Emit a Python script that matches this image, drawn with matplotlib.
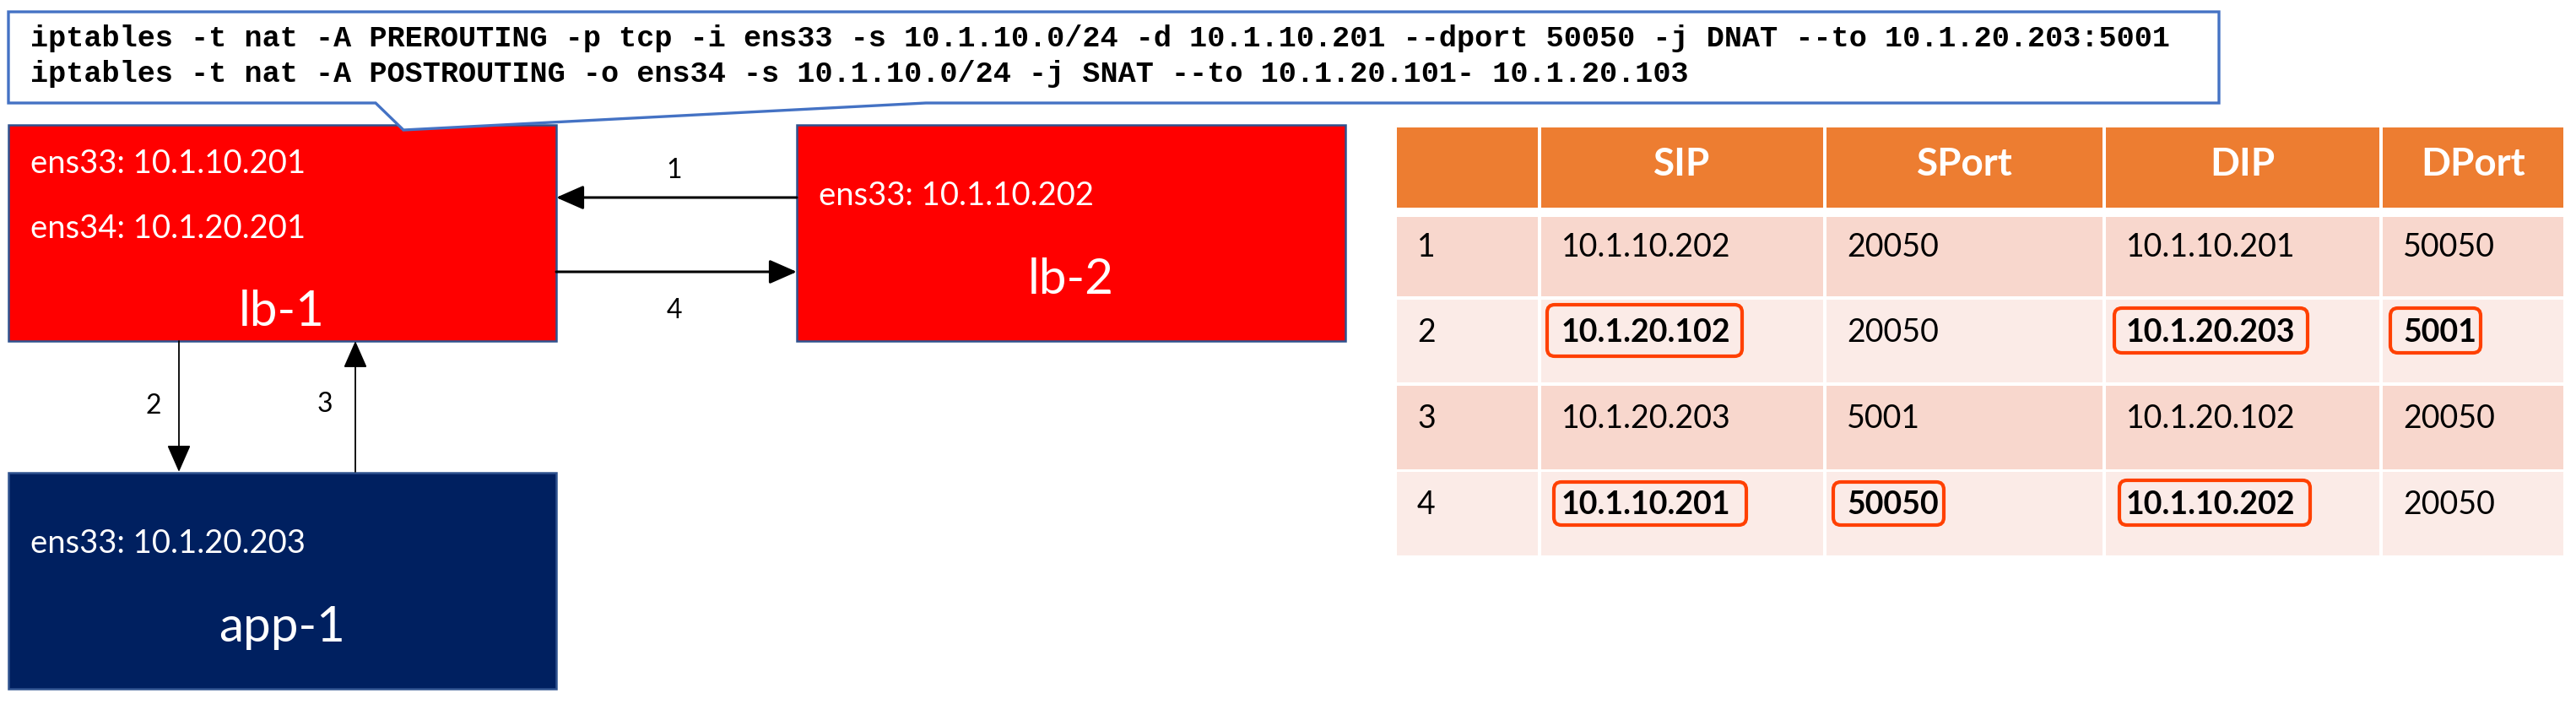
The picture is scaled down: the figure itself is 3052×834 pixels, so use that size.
import matplotlib.pyplot as plt
from matplotlib.patches import Rectangle, Polygon, FancyBboxPatch

# --- content ---
cmd_lines = [
    "iptables -t nat -A PREROUTING -p tcp -i ens33 -s 10.1.10.0/24 -d 10.1.10.201 --dport 50050 -j DNAT --to 10.1.20.203:5001",
    "iptables -t nat -A POSTROUTING -o ens34 -s 10.1.10.0/24 -j SNAT --to 10.1.20.101- 10.1.20.103",
]
node_names = ["lb-1", "lb-2", "app-1"]
node_ifaces = [["ens33: 10.1.10.201", "ens34: 10.1.20.201"],
               ["ens33: 10.1.10.202"],
               ["ens33: 10.1.20.203"]]
arrow_labels = ["1", "2", "3", "4"]

header = ["", "SIP", "SPort", "DIP", "DPort"]
step = ["1", "2", "3", "4"]
sip = ["10.1.10.202", "10.1.20.102", "10.1.20.203", "10.1.10.201"]
sport = ["20050", "20050", "5001", "50050"]
dip = ["10.1.10.201", "10.1.20.203", "10.1.20.102", "10.1.10.202"]
dport = ["50050", "5001", "20050", "20050"]
# which cells were rewritten by NAT (row, col)
changed = [(1, 1), (1, 3), (1, 4), (3, 1), (3, 2), (3, 3)]

W, H = 3052, 834
fig = plt.figure(figsize=(W / 100, H / 100), dpi=100)
ax = fig.add_axes([0, 0, 1, 1])
ax.set_xlim(0, W)
ax.set_ylim(H, 0)
ax.axis("off")

SANS = ["Lato", "DejaVu Sans"]
MONO = ["Liberation Mono", "DejaVu Sans Mono"]

# --- nodes ---
boxes = [(10, 148, 649, 256, "#FF0000"),
         (944, 148, 650, 256, "#FF0000"),
         (10, 560, 649, 256, "#002060")]
name_pos = [(334, 386), (1269, 348), (334, 760)]
iface_pos = [[(36, 205), (36, 282)], [(970, 243)], [(36, 655)]]
for i, (x, y, w, h, c) in enumerate(boxes):
    ax.add_patch(Rectangle((x, y), w, h, facecolor=c, edgecolor="#2F528F", lw=1.8, zorder=2))
    ax.text(*name_pos[i], node_names[i], color="white", fontsize=42, ha="center",
            va="baseline", family=SANS, zorder=3)
    for t, p in zip(node_ifaces[i], iface_pos[i]):
        ax.text(*p, t, color="white", fontsize=27.5, ha="left", va="baseline",
                family=SANS, zorder=3)

# --- callout ---
callout = [(10, 14), (2629, 14), (2629, 122), (1097, 122), (478, 154), (445, 122), (10, 122)]
ax.add_patch(Polygon(callout, closed=True, facecolor="white", edgecolor="#4472C4",
                     lw=2.4, zorder=4))
for t, yb in zip(cmd_lines, [55, 97]):
    ax.text(36, yb, t, fontsize=25.3, fontweight="bold", family=MONO, ha="left",
            va="baseline", zorder=5)

# --- arrows ---
arrows = [((944, 234), (659, 234), 2.2), ((212, 404), (212, 559), 1.3),
          ((421, 559), (421, 404), 1.3), ((659, 322), (944, 322), 2.2)]
label_pos = [(799, 211), (182, 490), (385, 488), (799, 377)]
for (a, b, lw), lab, lp in zip(arrows, arrow_labels, label_pos):
    ax.annotate("", xy=b, xytext=a,
                arrowprops=dict(arrowstyle="-|>,head_length=0.5,head_width=0.22",
                                color="black", lw=lw, mutation_scale=40,
                                shrinkA=0, shrinkB=0), zorder=3)
    ax.text(*lp, lab, fontsize=23, ha="center", va="baseline", family=SANS)

# --- table ---
col_x = [(1655, 1822), (1826, 2160), (2164, 2491), (2495, 2819), (2823, 3037)]
row_y = [(151, 246), (257, 351), (355, 453), (457, 556), (559, 658)]
row_base = [208, 304, 405, 507, 609]
cols = [step, sip, sport, dip, dport]
hl_box = {(1, 1): (1833, 361, 2064, 422), (1, 3): (2505, 365, 2734, 418),
          (1, 4): (2832, 365, 2939, 418), (3, 1): (1841, 571, 2069, 622),
          (3, 2): (2172, 571, 2303, 622), (3, 3): (2511, 569, 2737, 622)}

for j, (x0, x1) in enumerate(col_x):
    y0, y1 = row_y[0]
    ax.add_patch(Rectangle((x0, y0), x1 - x0, y1 - y0, facecolor="#ED7D31", lw=0))
    ax.text((x0 + x1) / 2, row_base[0], header[j], color="white", fontsize=33,
            fontweight="bold", ha="center", va="baseline", family=SANS)
    for r in range(4):
        y0, y1 = row_y[r + 1]
        fc = "#F8D7CD" if r % 2 == 0 else "#FBEBE7"
        ax.add_patch(Rectangle((x0, y0), x1 - x0, y1 - y0, facecolor=fc, lw=0))
        bold = (r, j) in changed
        ax.text(x0 + 24, row_base[r + 1], cols[j][r], fontsize=27,
                fontweight="bold" if bold else "normal", ha="left", va="baseline",
                family=SANS, zorder=3)
        if bold:
            bx0, by0, bx1, by1 = hl_box[(r, j)]
            ax.add_patch(FancyBboxPatch((bx0, by0), bx1 - bx0, by1 - by0,
                                        boxstyle="round,pad=0,rounding_size=9",
                                        facecolor="none", edgecolor="#FF4000",
                                        lw=3, zorder=4))

fig.savefig("out.png", dpi=100, facecolor="white")
